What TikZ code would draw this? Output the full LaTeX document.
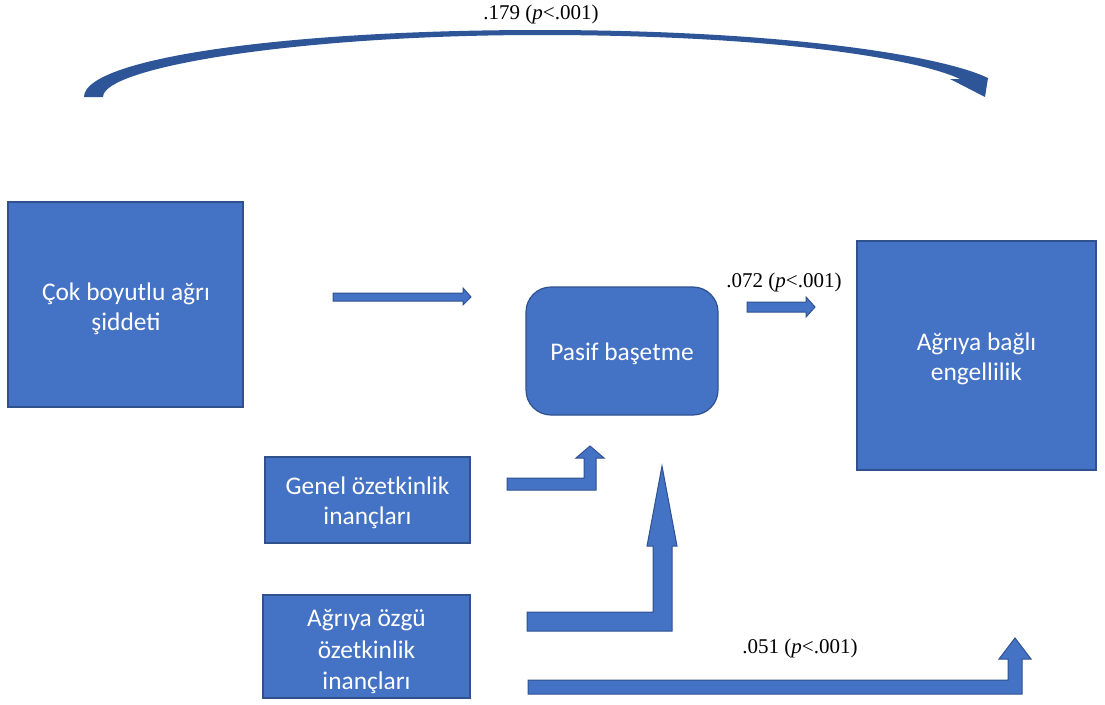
\documentclass[tikz,border=0pt]{standalone}
\usepackage{fontspec}
\setmainfont{Carlito}
\newfontfamily\tnr{Liberation Serif}
\definecolor{fillb}{HTML}{4472C4}
\definecolor{lineb}{HTML}{2F528F}
\definecolor{arcb}{HTML}{2E5597}
\begin{document}
\begin{tikzpicture}[x=1pt,y=-1pt,
  box/.style={draw=lineb,fill=fillb,line width=1.2pt,text=white,align=center,
    font=\fontsize{25.4}{30}\selectfont,inner sep=0pt},
  boxtext/.style={text=white,align=center,font=\fontsize{25.4}{30}\selectfont,inner sep=0pt},
  blockarrow/.style={draw=lineb,fill=fillb,line width=1pt,line join=miter},
  lbl/.style={font=\tnr\fontsize{21}{25}\selectfont,inner sep=0pt}]
\useasboundingbox (0,0) rectangle (1105,704);
% boxes
\node[box,minimum width=235,minimum height=205] (cok) at (125.5,304.5) {};
\node[boxtext] (cokt) at (126,309) {Çok boyutlu ağrı\\şiddeti};
\node[box,rounded corners=25,minimum width=192,minimum height=128] (pasif) at (622,351) {};
\node[boxtext] (pasift) at (622,354) {Pasif başetme};
\node[box,minimum width=239,minimum height=229] (eng) at (976.5,355.5) {};
\node[boxtext] (engt) at (976.5,359) {Ağrıya bağlı\\engellilik};
\node[box,minimum width=205,minimum height=86] (genel) at (367.5,500) {};
\node[boxtext] (genelt) at (367.5,503) {Genel özetkinlik\\inançları};
\node[box,minimum width=207,minimum height=103] (ozgu) at (366.5,646.5) {};
\node[boxtext,font=\fontsize{25.4}{31.5}\selectfont] (ozgut) at (366.5,652) {Ağrıya özgü\\özetkinlik\\inançları};
% curved arrow on top
\fill[arcb] (84,97) .. controls (84,58) and (288,30) .. (540,30)
  .. controls (780,30) and (940,55) .. (988,78)
  -- (985,97) -- (950,79) -- (960,79)
  .. controls (915,58) and (770,35) .. (540,35)
  .. controls (300,35) and (103,67) .. (103,97) -- cycle;
\node[lbl] (l179) at (541,14) {.179 (\textit{p}<.001)};
% straight arrows
\draw[blockarrow] (333,293) -- (463,293) -- (463,288) -- (471,297) -- (463,305) -- (463,301) -- (333,301) -- cycle;
\draw[blockarrow] (747,302) -- (806,302) -- (806,297) -- (815,307) -- (806,317) -- (806,312) -- (747,312) -- cycle;
\node[lbl] (l072) at (784,282) {.072 (\textit{p}<.001)};
% bent arrows
\draw[blockarrow] (507,478) -- (584,478) -- (584,458) -- (576,458) -- (590,446) -- (604,458) -- (596,458) -- (596,490) -- (507,490) -- cycle;
\draw[blockarrow] (527,612) -- (653,612) -- (653,546) -- (647,546) -- (662,466) -- (677,546) -- (672,546) -- (672,631) -- (527,631) -- cycle;
\draw[blockarrow] (528,680) -- (1008,680) -- (1008,659) -- (999,659) -- (1015,638) -- (1031,659) -- (1022,659) -- (1022,694) -- (528,694) -- cycle;
\node[lbl] (l051) at (800,648) {.051 (\textit{p}<.001)};
\end{tikzpicture}
\end{document}
